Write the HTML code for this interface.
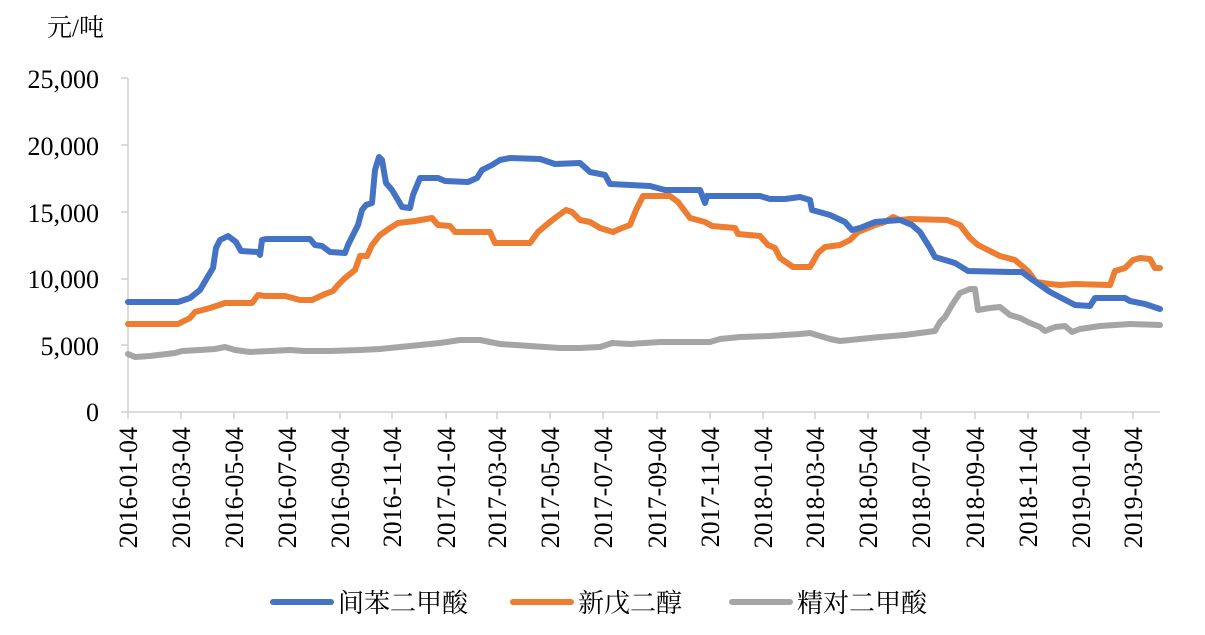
<!DOCTYPE html>
<html><head><meta charset="utf-8"><style>
body{margin:0;background:#fff;}
text{font-family:"Liberation Serif","Noto Serif CJK SC","Noto Sans CJK SC",serif;fill:#000;}
</style></head><body>
<svg width="1205" height="630" viewBox="0 0 1205 630" xmlns="http://www.w3.org/2000/svg">
<text x="47" y="36" font-size="25">元/吨</text>
<g font-size="26" text-anchor="end">
<text x="99" y="88">25,000</text>
<text x="99" y="155">20,000</text>
<text x="99" y="222">15,000</text>
<text x="99" y="288">10,000</text>
<text x="99" y="355">5,000</text>
<text x="99" y="421">0</text>
</g>
<g stroke="#d0d0d0" stroke-width="1.5">
<line x1="128" y1="78" x2="128" y2="412"/>
<line x1="128" y1="412" x2="1160" y2="412"/>
<line x1="121" y1="78" x2="128" y2="78"/><line x1="121" y1="145" x2="128" y2="145"/><line x1="121" y1="212" x2="128" y2="212"/><line x1="121" y1="279" x2="128" y2="279"/><line x1="121" y1="345" x2="128" y2="345"/><line x1="121" y1="412" x2="128" y2="412"/>
<line x1="128" y1="412" x2="128" y2="419"/><line x1="181" y1="412" x2="181" y2="419"/><line x1="234" y1="412" x2="234" y2="419"/><line x1="287" y1="412" x2="287" y2="419"/><line x1="340" y1="412" x2="340" y2="419"/><line x1="392" y1="412" x2="392" y2="419"/><line x1="446" y1="412" x2="446" y2="419"/><line x1="497" y1="412" x2="497" y2="419"/><line x1="550" y1="412" x2="550" y2="419"/><line x1="603" y1="412" x2="603" y2="419"/><line x1="657" y1="412" x2="657" y2="419"/><line x1="710" y1="412" x2="710" y2="419"/><line x1="763" y1="412" x2="763" y2="419"/><line x1="815" y1="412" x2="815" y2="419"/><line x1="868" y1="412" x2="868" y2="419"/><line x1="921" y1="412" x2="921" y2="419"/><line x1="975" y1="412" x2="975" y2="419"/><line x1="1028" y1="412" x2="1028" y2="419"/><line x1="1081" y1="412" x2="1081" y2="419"/><line x1="1133" y1="412" x2="1133" y2="419"/>
</g>
<g font-size="26" text-anchor="end">
<text transform="translate(137,427) rotate(-90)">2016-01-04</text>
<text transform="translate(190,427) rotate(-90)">2016-03-04</text>
<text transform="translate(243,427) rotate(-90)">2016-05-04</text>
<text transform="translate(296,427) rotate(-90)">2016-07-04</text>
<text transform="translate(349,427) rotate(-90)">2016-09-04</text>
<text transform="translate(401,427) rotate(-90)">2016-11-04</text>
<text transform="translate(455,427) rotate(-90)">2017-01-04</text>
<text transform="translate(506,427) rotate(-90)">2017-03-04</text>
<text transform="translate(559,427) rotate(-90)">2017-05-04</text>
<text transform="translate(612,427) rotate(-90)">2017-07-04</text>
<text transform="translate(666,427) rotate(-90)">2017-09-04</text>
<text transform="translate(719,427) rotate(-90)">2017-11-04</text>
<text transform="translate(772,427) rotate(-90)">2018-01-04</text>
<text transform="translate(824,427) rotate(-90)">2018-03-04</text>
<text transform="translate(877,427) rotate(-90)">2018-05-04</text>
<text transform="translate(930,427) rotate(-90)">2018-07-04</text>
<text transform="translate(984,427) rotate(-90)">2018-09-04</text>
<text transform="translate(1037,427) rotate(-90)">2018-11-04</text>
<text transform="translate(1090,427) rotate(-90)">2019-01-04</text>
<text transform="translate(1142,427) rotate(-90)">2019-03-04</text>
</g>
<g fill="none" stroke-width="6" stroke-linejoin="round" stroke-linecap="round">
<polyline stroke="#a5a5a5" points="128,354 135,357 150,356 175,353 182,351 200,350 215,349 225,347 235,350 250,352 270,351 290,350 305,351 330,351 360,350 380,349 400,347 420,345 440,343 460,340 480,340 500,344 530,346 560,348 580,348 600,347 612,343 630,344 660,342 690,342 710,342 720,339 740,337 770,336 800,334 810,333 830,339 840,341 860,339 880,337 905,335 935,331 940,322 945,317 952,305 960,293 970,289 975,289 978,310 990,308 1000,307 1010,315 1020,318 1030,323 1040,327 1045,331 1055,327 1065,326 1072,332 1080,329 1100,326 1130,324 1160,325"/>
<polyline stroke="#ed7d31" points="128,324 178,324 190,318 195,312 210,308 225,303 237,303 252,303 258,295 265,296 285,296 300,300 312,300 325,294 333,291 338,285 345,278 355,270 360,256 367,256 372,245 380,235 390,228 398,223 415,221 432,218 438,225 450,226 455,232 490,232 495,243 530,243 538,232 545,226 555,218 566,210 572,212 580,220 590,222 600,228 613,232 622,228 630,225 636,210 643,196 670,196 678,202 690,218 705,222 712,226 735,228 738,234 760,236 768,245 775,248 780,258 793,267 810,267 818,253 825,247 840,245 850,240 858,232 868,228 875,225 885,222 893,217 900,220 910,219 947,220 960,225 970,238 978,245 990,251 1000,256 1015,260 1028,271 1036,282 1050,284 1060,285 1075,284 1110,285 1115,271 1125,268 1133,260 1140,258 1150,259 1155,268 1160,268"/>
<polyline stroke="#4472c4" points="128,302 178,302 190,298 200,290 207,278 213,268 216,248 220,240 228,236 236,242 241,251 258,252 260,255 262,240 266,239 310,239 315,245 322,246 330,252 345,253 348,245 353,235 358,225 362,210 366,205 372,203 375,170 379,157 382,160 386,183 392,190 398,200 402,207 410,208 413,195 420,178 438,178 445,181 468,182 477,178 482,170 492,165 500,160 510,158 540,159 555,164 580,163 590,172 605,175 610,184 650,186 665,190 700,190 705,203 707,196 760,196 770,199 785,199 800,197 810,200 812,210 830,215 845,222 852,230 860,228 875,222 900,220 912,225 920,232 930,248 935,257 955,263 968,271 1010,272 1022,272 1030,278 1050,292 1075,305 1090,306 1095,298 1125,298 1130,301 1145,304 1160,309"/>
</g>
<g stroke-width="6" stroke-linecap="round">
<line x1="273" y1="602" x2="331" y2="602" stroke="#4472c4"/>
<line x1="513" y1="602" x2="571" y2="602" stroke="#ed7d31"/>
<line x1="732" y1="602" x2="790" y2="602" stroke="#a5a5a5"/>
</g>
<g font-size="26">
<text x="338" y="612">间苯二甲酸</text>
<text x="578" y="612">新戊二醇</text>
<text x="797" y="612">精对二甲酸</text>
</g>
</svg>
</body></html>
